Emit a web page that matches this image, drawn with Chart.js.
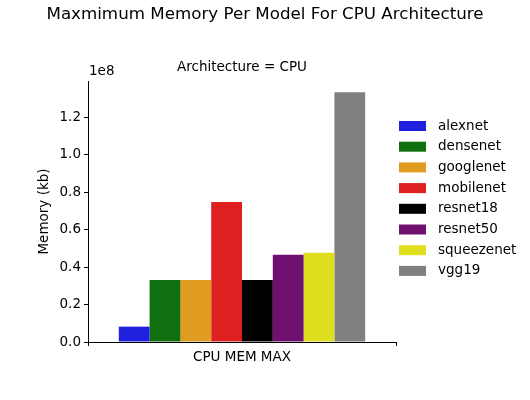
<!DOCTYPE html>
<html>
<head>
<meta charset="utf-8">
<script src="https://cdn.jsdelivr.net/npm/chart.js@4"></script>
<style>
  html, body { margin: 0; padding: 0; background: #fff; }
  #wrap { width: 530px; height: 400px; }
</style>
</head>
<body>
<div id="wrap"><canvas id="chart" width="530" height="400"></canvas></div>
<script>
// data
const categories = ['CPU MEM MAX'];
const models = ['alexnet', 'densenet', 'googlenet', 'mobilenet', 'resnet18', 'resnet50', 'squeezenet', 'vgg19'];
const memoryKb = [0.082e8, 0.332e8, 0.332e8, 0.748e8, 0.332e8, 0.466e8, 0.477e8, 1.335e8];
const colors = ['#2020df', '#107010', '#df9c20', '#df2020', '#000000', '#701070', '#dfdf20', '#808080'];
const yTicks = [0, 0.2e8, 0.4e8, 0.6e8, 0.8e8, 1.0e8, 1.2e8];

const font = "'DejaVu Sans', sans-serif";

// title, facet title, offset text and legend
const extras = {
    id: 'extras',
    afterDraw(chart) {
        const ctx = chart.ctx;
        const area = chart.chartArea;
        ctx.save();
        ctx.fillStyle = '#000';
        ctx.textBaseline = 'middle';

        ctx.font = '16.7px ' + font;
        ctx.textAlign = 'center';
        ctx.fillText('Maxmimum Memory Per Model For CPU Architecture', 265, 15);

        ctx.font = '13.5px ' + font;
        ctx.fillText('Architecture = CPU', (area.left + area.right) / 2, 67);

        ctx.textAlign = 'left';
        ctx.fillText('1e8', area.left + 1, 71);

        chart.data.datasets.forEach((ds, i) => {
            const y = 126 + i * 20.7;
            ctx.fillStyle = ds.backgroundColor;
            ctx.fillRect(399, y - 5, 27, 10);
            ctx.fillStyle = '#000';
            ctx.fillText(ds.label, 438, y);
        });
        ctx.restore();
    }
};

new Chart(document.getElementById('chart').getContext('2d'), {
    type: 'bar',
    data: {
        labels: categories,
        datasets: models.map((m, i) => ({
            label: m,
            data: [memoryKb[i]],
            backgroundColor: colors[i],
            borderWidth: 0
        }))
    },
    options: {
        responsive: false,
        animation: false,
        categoryPercentage: 0.8,
        barPercentage: 1.0,
        layout: { padding: { top: 81, right: 134, left: 0, bottom: 0 } },
        plugins: {
            legend: { display: false },
            tooltip: { enabled: false }
        },
        scales: {
            x: {
                grid: { display: true, drawOnChartArea: false, drawTicks: true, tickLength: 4, tickColor: '#000' },
                border: { display: true, color: '#000', width: 1 },
                ticks: { color: '#000', font: { family: font, size: 13.5 }, padding: 3 },
                afterFit: s => { s.height = 58; }
            },
            y: {
                min: 0,
                max: 1.395e8,
                grid: { display: true, drawOnChartArea: false, drawTicks: true, tickLength: 4, tickColor: '#000' },
                border: { display: true, color: '#000', width: 1 },
                afterBuildTicks: s => { s.ticks = yTicks.map(v => ({ value: v })); },
                ticks: {
                    autoSkip: false,
                    color: '#000',
                    font: { family: font, size: 13.5 },
                    padding: 3,
                    callback: v => (v / 1e8).toFixed(1)
                },
                title: { display: true, text: 'Memory (kb)', color: '#000', font: { family: font, size: 13.5 }, padding: { top: 36, bottom: 4 } },
                afterFit: s => { s.width = 88; }
            }
        }
    },
    plugins: [extras]
});
</script>
</body>
</html>
